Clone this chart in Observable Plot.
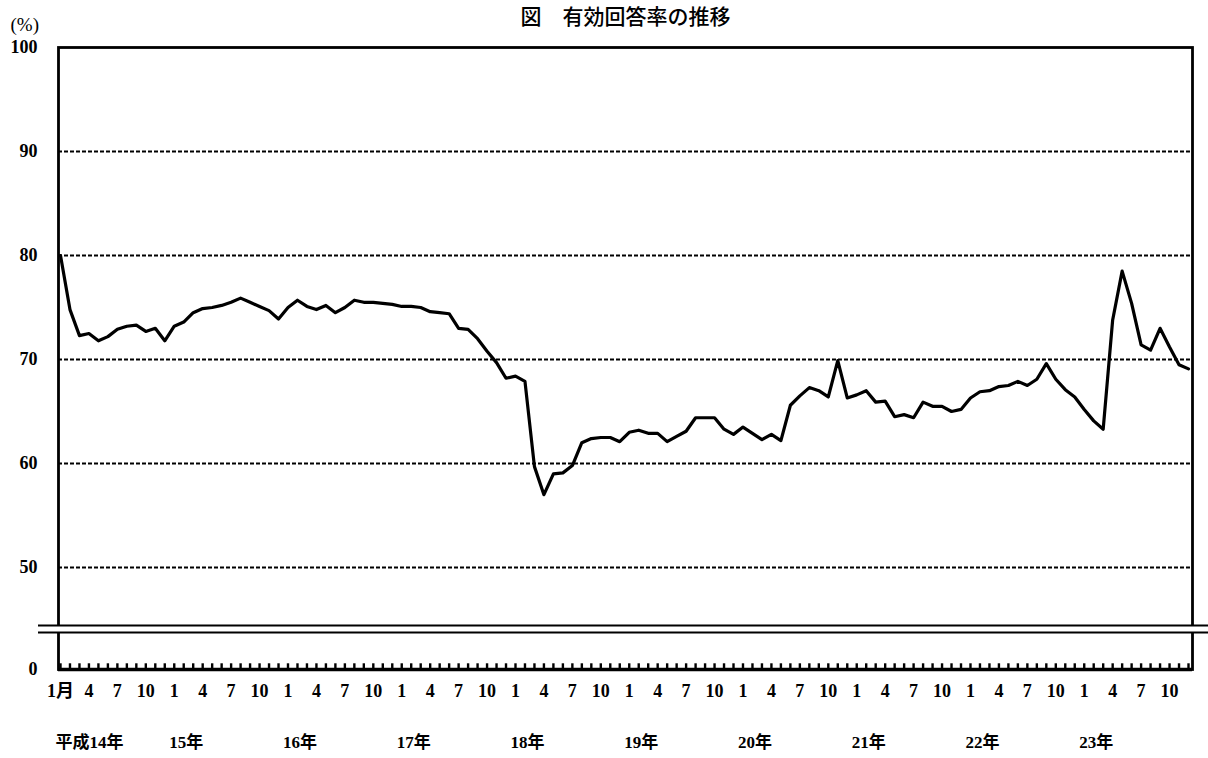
<!DOCTYPE html>
<html>
<head>
<meta charset="utf-8">
<script src="https://cdn.jsdelivr.net/npm/d3@7"></script>
<script src="https://cdn.jsdelivr.net/npm/@observablehq/plot@0.6"></script>
<style>
  html, body { margin: 0; padding: 0; background: #fff; }
  #chart { width: 1208px; height: 758px; overflow: hidden; }
</style>
</head>
<body>
<div id="chart"></div>
<script>
// ---- data ----
const title = "図　有効回答率の推移";
const unitLabel = "(%)";
const yearLabels = ["平成14年", "15年", "16年", "17年", "18年", "19年", "20年", "21年", "22年", "23年"];
const tickMonths = [1, 4, 7, 10];
const yTicks = [0, 50, 60, 70, 80, 90, 100];
const gridValues = [50, 60, 70, 80, 90];
const breakValues = [21.6, 18.1];
const rates = [
  80.0, 74.8, 72.3, 72.5, 71.8, 72.2, 72.9, 73.2, 73.3, 72.7, 73.0, 71.8, // H14
  73.2, 73.6, 74.5, 74.9, 75.0, 75.2, 75.5, 75.9, 75.5, 75.1, 74.7, 73.9, // H15
  75.0, 75.7, 75.1, 74.8, 75.2, 74.5, 75.0, 75.7, 75.5, 75.5, 75.4, 75.3, // H16
  75.1, 75.1, 75.0, 74.6, 74.5, 74.4, 73.0, 72.9, 72.0, 70.8, 69.7, 68.2, // H17
  68.4, 67.9, 59.7, 57.0, 59.0, 59.1, 59.8, 62.0, 62.4, 62.5, 62.5, 62.1, // H18
  63.0, 63.2, 62.9, 62.9, 62.1, 62.6, 63.1, 64.4, 64.4, 64.4, 63.3, 62.8, // H19
  63.5, 62.9, 62.3, 62.8, 62.2, 65.6, 66.5, 67.3, 67.0, 66.4, 69.9, 66.3, // H20
  66.6, 67.0, 65.9, 66.0, 64.5, 64.7, 64.4, 65.9, 65.5, 65.5, 65.0, 65.2, // H21
  66.3, 66.9, 67.0, 67.4, 67.5, 67.9, 67.5, 68.1, 69.6, 68.1, 67.1, 66.4, // H22
  65.2, 64.1, 63.3, 73.8, 78.5, 75.4, 71.4, 70.9, 73.0, 71.2, 69.5, 69.1  // H23
];

// ---- derived tables ----
const series = rates.map((v, i) => ({i, v}));
const monthTickData = [];
yearLabels.forEach((y, k) => {
  tickMonths.forEach(m => {
    monthTickData.push({i: k * 12 + (m - 1), label: (k === 0 && m === 1) ? "1月" : String(m)});
  });
});
const yearData = yearLabels.map((label, k) => ({i: k * 12, label}));
const minorTicks = rates.map((_, i) => i);

// broken axis: compress the 0–50 segment below the break
const lowerRatio = 0.19615;
const breakTransform = v => (v >= 50 ? v : 50 - (50 - v) * lowerRatio);

const numFont = "'Liberation Serif', 'Noto Sans CJK JP', serif";

const chart = Plot.plot({
  width: 1208,
  height: 758,
  marginLeft: 58,
  marginRight: 16,
  marginTop: 47,
  marginBottom: 89,
  x: {domain: [0, 119], range: [60, 1188], axis: null},
  y: {transform: breakTransform, range: [669, 47], axis: null},
  marks: [
    // dashed gridlines
    Plot.ruleY(gridValues, {stroke: "#000", strokeWidth: 2, strokeDasharray: "4,2"}),
    // frame
    Plot.frame({stroke: "#000", strokeWidth: 2.8}),
    Plot.ruleY([0], {stroke: "#000", strokeWidth: 3.4}),
    // small month ticks along the bottom
    Plot.ruleX(minorTicks, {y1: 0, y2: 2.8, stroke: "#000", strokeWidth: 2.4}),
    // axis break
    Plot.ruleY([(breakValues[0] + breakValues[1]) / 2], {stroke: "#fff", strokeWidth: 6, insetLeft: -4, insetRight: -4}),
    Plot.ruleY(breakValues, {stroke: "#000", strokeWidth: 2, insetLeft: -20, insetRight: -16}),
    // data line
    Plot.line(series, {x: "i", y: "v", stroke: "#000", strokeWidth: 3.2, strokeLinejoin: "round"}),
    // y tick labels
    Plot.text(yTicks, {y: d => d, text: d => String(d), frameAnchor: "left", dx: -21, textAnchor: "end",
      fontFamily: numFont, fontWeight: "bold", fontSize: 18, fill: "#000"}),
    // month labels
    Plot.text(monthTickData, {x: "i", text: "label", frameAnchor: "bottom", dy: 27,
      fontFamily: numFont, fontWeight: "bold", fontSize: 18, fill: "#000"}),
    // year labels
    Plot.text(yearData, {x: "i", text: "label", frameAnchor: "bottom", dy: 78, dx: -5, textAnchor: "start",
      fontFamily: numFont, fontWeight: "bold", fontSize: 17, fill: "#000"}),
    // unit label
    Plot.text([unitLabel], {text: d => d, frameAnchor: "top-left", dx: -48, dy: -30, textAnchor: "start",
      fontFamily: numFont, fontSize: 19, fill: "#000"}),
    // title
    Plot.text([title], {text: d => d, frameAnchor: "top", dy: -38, fontFamily: "'Noto Sans CJK JP', sans-serif",
      fontSize: 21, fontWeight: 500, fill: "#000"})
  ]
});
document.getElementById("chart").appendChild(chart);
</script>
</body>
</html>
